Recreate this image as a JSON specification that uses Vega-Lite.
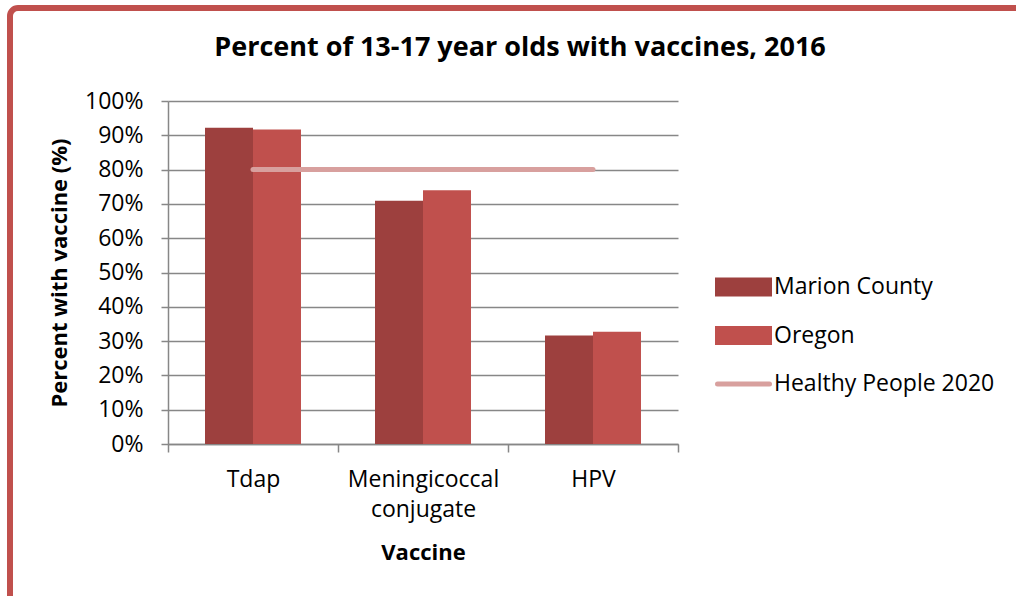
{
  "$schema": "https://vega.github.io/schema/vega-lite/v6.json",
  "width": 1020,
  "height": 600,
  "autosize": {"type": "none"},
  "padding": {"left": 10, "top": 8, "right": 0, "bottom": 0},
  "background": "white",
  "config": {
    "view": {"stroke": "#C0504D", "strokeWidth": 6, "cornerRadius": 8, "fill": "white"}
  },
  "title": {
    "text": "Percent of 13-17 year olds with vaccines, 2016",
    "anchor": "middle",
    "frame": "group",
    "offset": -54,
    "font": "Open Sans",
    "fontSize": 27,
    "fontWeight": "bold",
    "color": "black"
  },
  "data": {
    "values": [
      {"vaccine": "Tdap", "series": "Marion County", "value": 0.922},
      {"vaccine": "Tdap", "series": "Oregon", "value": 0.917},
      {"vaccine": "Meningicoccal conjugate", "series": "Marion County", "value": 0.709},
      {"vaccine": "Meningicoccal conjugate", "series": "Oregon", "value": 0.740},
      {"vaccine": "HPV", "series": "Marion County", "value": 0.316},
      {"vaccine": "HPV", "series": "Oregon", "value": 0.327},
      {"vaccine": "Tdap", "series": "Healthy People 2020", "value": 0.80},
      {"vaccine": "Meningicoccal conjugate", "series": "Healthy People 2020", "value": 0.80},
      {"vaccine": "HPV", "series": "Healthy People 2020", "value": 0.80}
    ]
  },
  "layer": [
    {
      "transform": [{"filter": "datum.series !== 'Healthy People 2020'"}],
      "mark": {"type": "bar"},
      "encoding": {
        "x": {
          "field": "vaccine",
          "type": "nominal",
          "sort": ["Tdap", "Meningicoccal conjugate", "HPV"],
          "scale": {"range": [158, 668], "paddingInner": 0, "paddingOuter": 0},
          "axis": {
            "title": "Vaccine",
            "offset": -164,
            "tickBand": "extent",
            "labelAngle": 0,
            "labelExpr": "datum.label == 'Meningicoccal conjugate' ? ['Meningicoccal', 'conjugate'] : datum.label",
            "labelLineHeight": 30,
            "labelPadding": 16,
            "labelFont": "Open Sans",
            "labelFontSize": 23,
            "labelColor": "black",
            "labelLimit": 300,
            "tickSize": 8,
            "tickColor": "#878787",
            "tickWidth": 1.5,
            "domainColor": "#878787",
            "domainWidth": 1.5,
            "grid": false,
            "titleFont": "Open Sans",
            "titleFontSize": 22,
            "titleFontWeight": "bold",
            "titleColor": "black",
            "titlePadding": 21
          }
        },
        "xOffset": {
          "field": "series",
          "type": "nominal",
          "sort": ["Marion County", "Oregon"],
          "scale": {"paddingInner": 0, "paddingOuter": 0.771}
        },
        "y": {
          "field": "value",
          "type": "quantitative",
          "scale": {"domain": [0, 1], "range": [436, 93], "nice": false, "zero": true},
          "axis": {
            "title": "Percent with vaccine (%)",
            "values": [0, 0.1, 0.2, 0.3, 0.4, 0.5, 0.6, 0.7, 0.8, 0.9, 1],
            "format": ".0%",
            "offset": -158,
            "grid": true,
            "gridColor": "#878787",
            "gridWidth": 1.5,
            "domainColor": "#878787",
            "domainWidth": 1.5,
            "tickColor": "#878787",
            "tickWidth": 1.5,
            "tickSize": 7,
            "labelPadding": 18,
            "labelFont": "Open Sans",
            "labelFontSize": 23,
            "labelColor": "black",
            "titleFont": "Open Sans",
            "titleFontSize": 22,
            "titleFontWeight": "bold",
            "titleColor": "black",
            "titlePadding": 13
          }
        },
        "color": {
          "field": "series",
          "type": "nominal",
          "scale": {
            "domain": ["Marion County", "Oregon", "Healthy People 2020"],
            "range": ["#9D403E", "#C0504D", "#D8A09E"]
          },
          "legend": {
            "orient": "none",
            "legendX": 705,
            "legendY": 255,
            "title": null,
            "padding": 0,
            "symbolSize": 2704,
            "clipHeight": 48,
            "labelOffset": 2,
            "rowPadding": 0.5,
            "labelFont": "Open Sans",
            "labelFontSize": 23,
            "labelColor": "black",
            "labelLimit": 400,
            "encode": {
              "symbols": {
                "update": {
                  "size": {"value": 2704},
                  "shape": {"signal": "datum.value === 'Healthy People 2020' ? 'stroke' : 'M-1,-0.27H1V0.27H-1Z'"},
                  "fill": {"signal": "datum.value === 'Healthy People 2020' ? 'transparent' : scale('color', datum.value)"},
                  "stroke": {"signal": "datum.value === 'Healthy People 2020' ? scale('color', datum.value) : 'transparent'"},
                  "strokeWidth": {"value": 5},
                  "strokeCap": {"value": "round"},
                  "opacity": {"value": 1}
                }
              }
            }
          }
        }
      }
    },
    {
      "transform": [{"filter": "datum.series === 'Healthy People 2020'"}],
      "mark": {"type": "line", "strokeWidth": 5, "strokeCap": "round"},
      "encoding": {
        "x": {"field": "vaccine", "type": "nominal", "sort": ["Tdap", "Meningicoccal conjugate", "HPV"]},
        "y": {"field": "value", "type": "quantitative"},
        "color": {"field": "series", "type": "nominal"}
      }
    }
  ]
}
